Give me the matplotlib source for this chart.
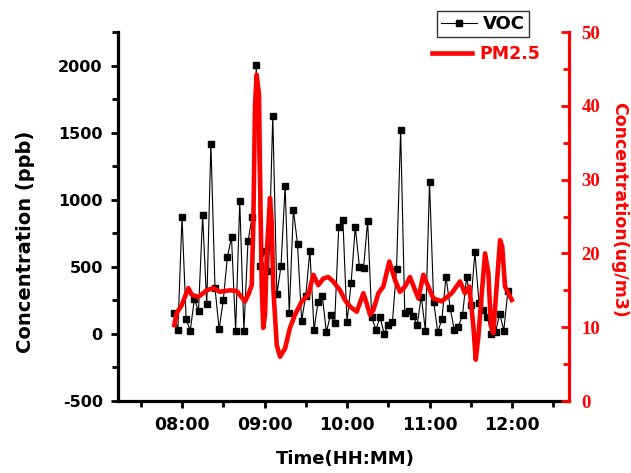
import matplotlib
matplotlib.use("Agg")
from matplotlib import pyplot as plt
from matplotlib.ticker import MultipleLocator, FuncFormatter
from matplotlib.lines import Line2D
import numpy as np

plt.rcParams["axes.unicode_minus"] = False

# VOC every 3 minutes, starting 07:54 (minutes relative to 08:00)
voc_min = np.arange(82) * 3 - 6
voc = [159, 30, 873, 112, 25, 260, 171, 883, 222, 1418,
       341, 35, 251, 572, 721, 25, 987, 25, 689, 873,
       2007, 505, 621, 470, 1624, 296, 505, 1104, 154, 927,
       669, 99, 285, 619, 32, 241, 286, 13, 143, 80,
       800, 850, 87, 382, 797, 502, 491, 842, 123, 32,
       123, 3, 67, 87, 481, 1517, 156, 168, 133, 67,
       278, 25, 1130, 241, 13, 110, 427, 194, 30, 55,
       139, 427, 216, 609, 229, 180, 124, 2, 13, 152,
       25, 321]

# PM2.5 (minutes relative to 08:00, ug/m3)
pm_min = [-5.6, -3.9, -0.2, 4.6, 7.1, 11.9, 18.0, 22.8, 27.6, 34.9,
          39.8, 45.8, 48.2, 50.7, 51.9, 53.1, 54.3, 56.0, 56.7, 58.0,
          59.1, 60.4, 61.6, 64.0, 65.2, 66.4, 68.9, 71.3, 74.9, 78.5,
          82.2, 87.1, 91.9, 95.5, 99.1, 102.8, 106.4, 110.0, 114.9, 118.5,
          122.2, 127.1, 131.9, 134.3, 136.7, 139.1, 142.8, 146.4, 150.8, 154.9,
          158.5, 162.2, 165.8, 169.5, 171.9, 175.5, 179.1, 182.8, 188.9, 196.1,
          202.2, 205.8, 209.0, 211.9, 213.6, 215.5, 218.0, 220.4, 222.8, 224.7,
          226.4, 228.8, 231.3, 232.9, 234.9, 239.8]
pm = [10.3, 11.9, 13.0, 15.3, 14.4, 14.1, 15.0, 15.3, 14.8, 15.0,
      14.9, 13.5, 14.4, 15.7, 24.3, 40.1, 44.2, 41.5, 31.1, 15.3,
      9.9, 11.7, 19.8, 27.5, 24.3, 15.3, 7.6, 6.0, 7.1, 9.9,
      11.7, 13.5, 14.4, 17.1, 15.7, 16.6, 16.8, 16.2, 15.0, 13.7,
      12.8, 12.1, 14.6, 13.2, 11.7, 12.3, 14.6, 15.5, 18.9, 16.4,
      14.8, 15.5, 16.8, 15.0, 13.9, 17.1, 15.5, 13.9, 13.5, 14.6,
      16.2, 14.6, 15.5, 10.1, 5.6, 8.7, 14.6, 20.0, 17.3, 10.1,
      9.2, 15.5, 21.8, 20.9, 15.5, 13.7]

voc_t = 8 + np.array(voc_min) / 60
pm_t = 8 + np.array(pm_min) / 60

fig = plt.figure(figsize=(6.31, 4.73), dpi=100)
ax = fig.add_axes([0.187, 0.1522, 0.7148, 0.7801])
ax2 = ax.twinx()

ax.plot(voc_t, voc, color="black", lw=0.8, marker="s", ms=5, mec="black", mfc="black")
ax2.plot(pm_t, pm, color="red", lw=3.3, solid_joinstyle="round")

ax.set_xlim(7.2242, 12.691)
ax.set_ylim(-500, 2250)
ax2.set_ylim(0, 50)

ax.xaxis.set_major_locator(MultipleLocator(1))
ax.xaxis.set_minor_locator(MultipleLocator(0.5))
ax.xaxis.set_major_formatter(FuncFormatter(lambda h, _: "%02d:%02d" % (int(h), int(round((h % 1) * 60)))))
ax.yaxis.set_major_locator(MultipleLocator(500))
ax.yaxis.set_minor_locator(MultipleLocator(250))
ax2.yaxis.set_major_locator(MultipleLocator(10))
ax2.yaxis.set_minor_locator(MultipleLocator(5))

# spines
for s in ["top", "right"]:
    ax.spines[s].set_visible(False)
for s in ["top", "left", "bottom"]:
    ax2.spines[s].set_visible(False)
ax.spines["left"].set_linewidth(2.3)
ax.spines["bottom"].set_linewidth(2.3)
ax2.spines["right"].set_linewidth(2.3)
ax2.spines["right"].set_color("red")

bold = dict(family="DejaVu Sans", weight="bold")
ax.tick_params(axis="both", which="major", direction="out", length=5, width=2, pad=6)
ax.tick_params(axis="both", which="minor", direction="out", length=4, width=2)
ax.tick_params(axis="x", labelsize=12.5)
ax.tick_params(axis="y", labelsize=11.5)
for lab in ax.get_xticklabels() + ax.get_yticklabels():
    lab.set_fontweight("bold")
ax2.tick_params(axis="y", which="major", direction="in", length=6, width=2, colors="red", labelsize=13.5, pad=9)
ax2.tick_params(axis="y", which="minor", direction="in", length=4, width=2, colors="red")
for lab in ax2.get_yticklabels():
    lab.set_fontfamily("Liberation Serif")
    lab.set_fontweight("bold")

ax.set_xlabel("Time(HH:MM)", fontsize=13, **bold)
ax.xaxis.set_label_coords(0.503, -0.134)
ax.set_ylabel("Concentration (ppb)", fontsize=14, **bold)
ax.yaxis.set_label_coords(-0.184, 0.431)
ax2.set_ylabel("Concentration(ug/m3)", fontsize=12.5, color="red", rotation=-90, **bold)
ax2.yaxis.set_label_coords(1.131, 0.518)

# legends
h_voc = Line2D([], [], color="black", lw=0.8, marker="s", ms=5)
h_pm = Line2D([], [], color="red", lw=3.3)
leg1 = fig.legend([h_voc], ["VOC"], loc="upper left", bbox_to_anchor=(437 / 631, 1 - 11 / 473),
                  frameon=True, fancybox=False, edgecolor="black", borderpad=0.22,
                  borderaxespad=0, handlelength=2.0, handletextpad=0.35,
                  prop=dict(family="DejaVu Sans", weight="bold", size=13))
leg1.get_frame().set_linewidth(1.0)
leg2 = fig.legend([h_pm], ["PM2.5"], loc="center left", bbox_to_anchor=(428 / 631, 1 - 54 / 473),
                  frameon=False, borderpad=0.25, borderaxespad=0, handlelength=2.3,
                  handletextpad=0.4, labelcolor="red",
                  prop=dict(family="DejaVu Sans", weight="bold", size=12.5))

fig.savefig("out.png", dpi=100)
